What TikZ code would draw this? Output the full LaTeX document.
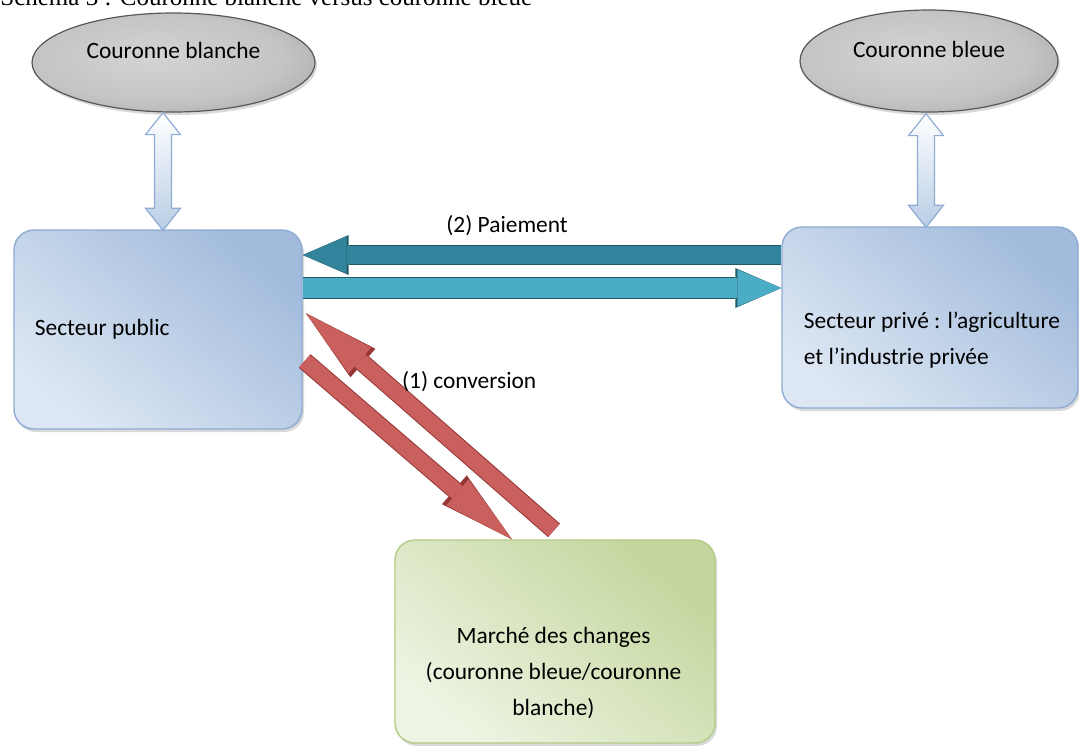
\documentclass[tikz,border=0pt]{standalone}
\usepackage{fontspec}
\setmainfont{Carlito}
\newfontfamily\titulofont{Liberation Serif}
\usepackage{tikz}
\usetikzlibrary{arrows.meta,shapes.geometric,shadows}
\usepackage{xcolor}

\definecolor{azulclaro}{HTML}{DDE7F3}
\definecolor{azulosc}{HTML}{A2BBDC}
\definecolor{azulborde}{HTML}{8EABD3}
\definecolor{verdeclaro}{HTML}{EEF4E3}
\definecolor{verdeosc}{HTML}{C3D69D}
\definecolor{verdeborde}{HTML}{B2CB85}
\definecolor{grisborde}{HTML}{575757}
\definecolor{tealosc}{HTML}{31849B}
\definecolor{tealclaro}{HTML}{4BACC6}
\definecolor{tealborde}{HTML}{215967}
\definecolor{rojo}{HTML}{C9605D}
\definecolor{rojoborde}{HTML}{943634}
\definecolor{flechaazul}{HTML}{B9CDE5}

% Degradado gris de las coronas
\pgfdeclareradialshading{corona}{\pgfpoint{-4bp}{3bp}}{%
  rgb(0bp)=(0.83,0.83,0.83);rgb(22bp)=(0.77,0.77,0.77);rgb(38bp)=(0.63,0.63,0.63);%
  rgb(50bp)=(0.46,0.46,0.46);rgb(70bp)=(0.44,0.44,0.44)}

\begin{document}
\begin{tikzpicture}[x=0.5pt,y=-0.5pt,font=\fontsize{11.7}{18}\selectfont,
  caja/.style={rounded corners=10pt,line width=0.7pt,
    drop shadow={shadow xshift=1pt,shadow yshift=-1.5pt,opacity=.3}},
  cajaazul/.style={caja,draw=azulborde,top color=azulosc,bottom color=azulclaro,shading angle=-40},
  cajaverde/.style={caja,draw=verdeborde,top color=verdeosc,bottom color=verdeclaro,shading angle=-40},
  corona/.style={ellipse,draw=grisborde,line width=0.6pt,shade,shading=corona,
    drop shadow={shadow xshift=1pt,shadow yshift=-1.5pt,opacity=.3},text height=8pt,text depth=12pt},
  dobleflecha/.style={draw=azulborde,line width=0.6pt,top color=white,bottom color=flechaazul},
  flecharoja/.style={line width=8pt,draw=rojo,-{Triangle[width=17pt,length=36pt,line width=0pt]},
    preaction={draw=rojoborde,line width=9pt,-{Triangle[width=19pt,length=38pt,line width=0pt]}}},
  flechapago/.style={line width=9pt,draw=tealosc,-{Triangle[width=18.5pt,length=22pt,line width=0pt]},
    preaction={draw=tealborde,line width=10pt,-{Triangle[width=20pt,length=23pt,line width=0pt]}}},
  flechaflujo/.style={line width=10pt,draw=tealclaro,-{Triangle[width=18.5pt,length=22pt,line width=0pt]},
    preaction={draw=tealborde,line width=11pt,-{Triangle[width=20pt,length=23pt,line width=0pt]}}}]
  % Marco de la figura (en píxeles)
  \useasboundingbox (0,0) rectangle (1079,745);

  % Título cortado arriba
  \node[anchor=base west,inner sep=0pt,font=\titulofont\fontsize{12.5}{14}\selectfont] (titulo) at (0,5)
    {Schéma 3 : Couronne blanche versus couronne bleue};

  % Las dos coronas
  \node[corona,minimum width=141.5pt,minimum height=49.5pt] (blanche) at (173.5,62.5) {Couronne blanche};
  \node[corona,minimum width=129pt,minimum height=51pt] (bleue) at (929,61) {Couronne bleue};

  % Sectores y mercado
  \node[cajaazul,minimum width=144pt,minimum height=99.5pt] (public) at (158,329.5) {};
  \node[cajaazul,minimum width=148pt,minimum height=90.5pt] (prive) at (930,317.5) {};
  \node[cajaverde,minimum width=160pt,minimum height=101.5pt] (marche) at (555,641.5) {};

  \node[anchor=west,align=left] (txtpublic) at ([shift={(14.5,0)}]public.west) {Secteur public};
  \node[anchor=west,align=left] (txtprive) at ([shift={(15.5,22.5)}]prive.west)
    {Secteur privé : l’agriculture\\et l’industrie privée};
  \node[align=center] (txtmarche) at ([shift={(-1.5,31.5)}]marche.center)
    {Marché des changes\\(couronne bleue/couronne\\blanche)};

  % Flechas dobles verticales
  \coordinate (blanche-s) at ([shift={(-10.5,0)}]blanche.south);
  \coordinate (public-n) at ([shift={(5,1)}]public.north);
  \coordinate (bleue-s) at ([shift={(-3,1)}]bleue.south);
  \coordinate (prive-n) at ([shift={(-4,1)}]prive.north);
  \foreach \ini/\fin in {blanche-s/public-n,bleue-s/prive-n}
    \shade[dobleflecha] (\ini) -- ([shift={(17.5,22)}]\ini) -- ([shift={(8.5,22)}]\ini)
      -- ([shift={(8.5,-22)}]\fin) -- ([shift={(17.5,-22)}]\fin) -- (\fin)
      -- ([shift={(-17.5,-22)}]\fin) -- ([shift={(-8.5,-22)}]\fin)
      -- ([shift={(-8.5,22)}]\ini) -- ([shift={(-17.5,22)}]\ini) -- cycle;

  % Pago entre sectores
  \draw[flechapago] ([shift={(0,-62.5)}]prive.west) -- ([shift={(0,-74.5)}]public.east)
    node[pos=.573,above=2pt] (pago) {(2) Paiement};
  \draw[flechaflujo] ([shift={(0,-41.5)}]public.east) -- ([shift={(0,-29.5)}]prive.west);

  % Conversión en el mercado de cambios
  \draw[flecharoja] ([shift={(-1,-9)}]marche.north) -- ([shift={(3,-16.5)}]public.east)
    node[pos=.683,right=1.5pt] (conv) {(1) conversion};
  \draw[flecharoja] ([shift={(2,31.5)}]public.east) -- ([shift={(-43,0)}]marche.north);
\end{tikzpicture}
\end{document}
